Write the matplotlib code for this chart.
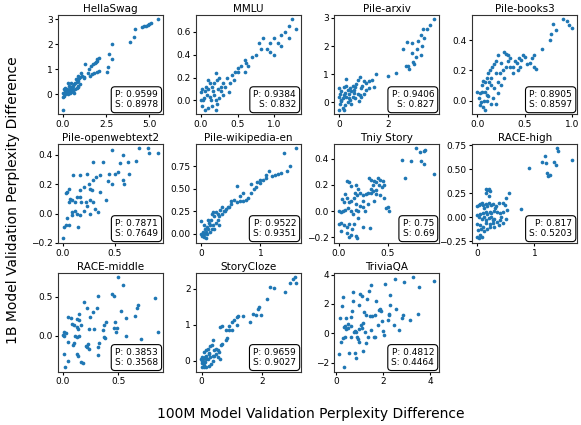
import numpy as np
import matplotlib
matplotlib.use("Agg")
import matplotlib.pyplot as plt

# ── Data ────────────────────────────────────────────────────────────────────
titles = ["HellaSwag", "MMLU", "Pile-arxiv", "Pile-books3",
          "Pile-openwebtext2", "Pile-wikipedia-en", "Tniy Story", "RACE-high",
          "RACE-middle", "StoryCloze", "TriviaQA"]
pearson = ["0.9599", "0.9384", "0.9406", "0.8905", "0.7871", "0.9522",
           "0.75", "0.817", "0.3853", "0.9659", "0.4812"]
spearman = ["0.8978", "0.832", "0.827", "0.8597", "0.7649", "0.9351",
            "0.69", "0.5203", "0.3568", "0.9027", "0.4464"]

x_ticks = [[0, 2.5, 5.0], [0, 0.5, 1.0], [0, 2], [0, 0.5, 1.0],
           [0, 0.5], [0, 1], [0, 0.5], [0, 1],
           [0, 0.5], [0, 2], [0, 2, 4]]
y_ticks = [[0, 1, 2, 3], [0, 0.2, 0.4, 0.6], [0, 1, 2, 3], [0, 0.2, 0.4],
           [-0.2, 0, 0.2, 0.4], [0, 0.25, 0.5, 0.75], [-0.2, 0, 0.2, 0.4],
           [-0.25, 0, 0.25, 0.5, 0.75],
           [0, 0.5], [0, 1, 2], [-2, 0, 2, 4]]

hellaswag = [(5.5, 3.0), (5.1, 2.85), (5.0, 2.82), (4.9, 2.78), (4.8, 2.75), (4.7, 2.72),
             (4.6, 2.68), (4.15, 2.6), (4.1, 2.3), (3.9, 2.1), (2.83, 2.03), (2.65, 1.6),
             (2.87, 1.4), (2.63, 1.08), (2.57, 0.9), (2.1, 1.45), (2.0, 1.4), (1.95, 1.35),
             (1.9, 1.3), (1.85, 1.25), (1.75, 1.2), (1.65, 1.15), (1.3, 1.2), (1.5, 1.0),
             (2.1, 0.95), (1.95, 0.9), (1.8, 0.85), (1.7, 0.8), (1.55, 0.75), (1.45, 0.85),
             (1.25, 0.7), (1.2, 0.65), (1.1, 0.75), (1.0, 0.7), (0.95, 0.65), (0.9, 0.6),
             (0.85, 0.55), (0.8, 0.5), (0.75, 0.6), (0.7, 0.45), (0.65, 0.4), (0.6, 0.35),
             (0.55, 0.3), (0.5, 0.45), (0.45, 0.25), (0.4, 0.2), (0.35, 0.15), (0.3, 0.1),
             (0.25, 0.2), (0.2, 0.05), (0.15, 0.1), (0.1, 0.0), (0.05, -0.05), (0.0, -0.1),
             (0.9, 0.3), (0.8, 0.25), (0.7, 0.2), (0.6, 0.15), (0.5, 0.1), (0.4, 0.05),
             (0.3, 0.0), (0.2, 0.15), (0.1, 0.1), (0.05, 0.2), (0.0, 0.05), (0.65, 0.05),
             (0.45, 0.3), (0.35, 0.35), (0.25, 0.1), (1.0, 0.4), (0.85, 0.35), (0.55, 0.2),
             (0.0, -0.61), (0.15, 0.25), (0.3, 0.45), (1.05, 0.85), (0.9, 0.75)]

mmlu = [(1.25, 0.71), (1.3, 0.63), (1.2, 0.65), (1.15, 0.6), (1.2, 0.55), (1.1, 0.57),
        (1.05, 0.5), (1.1, 0.48), (1.0, 0.55), (0.95, 0.5), (0.9, 0.45), (0.95, 0.42),
        (1.0, 0.4), (0.85, 0.55), (0.8, 0.5), (0.82, 0.45), (0.75, 0.4), (0.7, 0.38),
        (0.6, 0.35), (0.65, 0.3), (0.55, 0.3), (0.5, 0.28), (0.47, 0.25), (0.42, 0.22),
        (0.45, 0.18), (0.35, 0.2), (0.3, 0.15), (0.33, 0.12), (0.4, 0.15), (0.38, 0.07),
        (0.25, 0.2), (0.2, 0.24), (0.22, 0.18), (0.18, 0.15), (0.15, 0.12), (0.12, 0.15),
        (0.1, 0.1), (0.08, 0.05), (0.05, 0.08), (0.03, 0.0), (0.0, 0.07), (0.02, -0.05),
        (0.05, -0.08), (0.1, -0.07), (0.15, -0.05), (0.2, -0.08), (0.22, -0.03), (0.25, 0.02),
        (0.18, 0.05), (0.12, 0.03), (0.07, 0.12), (0.0, 0.0), (0.04, 0.02), (0.14, 0.0),
        (0.28, 0.08), (0.23, 0.1), (0.3, 0.05), (0.6, 0.25), (0.62, 0.33), (0.5, 0.25),
        (0.02, 0.1), (0.1, 0.18), (0.16, 0.08), (0.2, 0.0), (0.27, 0.12)]

pile_arxiv = [(3.85, 2.95), (3.7, 2.75), (3.55, 2.6), (3.4, 2.6), (3.3, 2.4), (3.45, 2.3),
              (3.2, 2.2), (3.35, 2.0), (3.15, 1.9), (2.95, 1.75), (3.1, 1.6), (3.3, 1.7),
              (3.0, 1.45), (2.85, 1.2), (3.05, 1.35), (2.75, 2.15), (2.95, 2.1), (2.6, 1.9),
              (2.7, 1.3), (2.8, 1.3), (2.3, 1.05), (2.0, 0.95), (1.5, 1.0), (1.35, 0.8),
              (1.2, 0.75), (1.1, 0.7), (1.0, 0.75), (0.95, 0.6), (0.9, 0.5), (0.85, 0.9),
              (0.75, 0.8), (0.7, 0.65), (0.65, 0.55), (0.6, 0.45), (0.55, 0.6), (0.5, 0.4),
              (0.45, 0.5), (0.4, 0.3), (0.35, 0.45), (0.3, 0.85), (0.3, 0.2), (0.25, 0.35),
              (0.2, 0.25), (0.15, 0.15), (0.1, 0.05), (0.05, 0.3), (0.05, -0.05), (0.0, 0.2),
              (0.0, 0.5), (0.1, 0.1), (0.15, -0.2), (0.2, -0.25), (0.0, -0.25), (0.25, -0.1),
              (0.35, 0.0), (0.45, 0.1), (0.55, 0.2), (0.65, 0.15), (0.75, 0.3), (0.85, 0.25),
              (1.0, 0.3), (1.2, 0.5), (1.4, 0.55), (0.8, 0.05), (0.5, -0.05), (0.3, 0.6),
              (0.2, 0.55), (0.6, 0.35), (0.4, 0.15), (0.1, 0.4), (1.1, 0.45), (0.9, 0.2)]

pile_books3 = [(0.8, 0.51), (0.83, 0.47), (0.9, 0.54), (0.95, 0.53), (0.97, 0.5), (1.0, 0.48),
               (0.78, 0.44), (0.77, 0.4), (0.68, 0.34), (0.6, 0.3), (0.58, 0.28), (0.56, 0.25),
               (0.62, 0.21), (0.5, 0.29), (0.48, 0.3), (0.46, 0.27), (0.44, 0.28), (0.42, 0.25),
               (0.4, 0.26), (0.38, 0.22), (0.35, 0.28), (0.33, 0.3), (0.3, 0.31), (0.28, 0.32),
               (0.25, 0.25), (0.27, 0.2), (0.3, 0.22), (0.22, 0.3), (0.2, 0.26), (0.18, 0.24),
               (0.16, 0.22), (0.14, 0.2), (0.12, 0.18), (0.1, 0.15), (0.08, 0.12), (0.06, 0.13),
               (0.2, 0.18), (0.22, 0.12), (0.18, 0.08), (0.15, 0.1), (0.13, 0.12), (0.1, 0.08),
               (0.08, 0.06), (0.05, 0.06), (0.03, 0.05), (0.0, 0.06), (0.02, 0.02), (0.04, -0.01),
               (0.06, -0.04), (0.08, -0.06), (0.1, 0.0), (0.12, 0.03), (0.15, -0.02), (0.2, -0.02),
               (0.22, 0.05), (0.25, 0.1), (0.17, 0.02), (0.1, 0.04), (0.07, 0.0), (0.03, -0.03),
               (0.35, 0.22), (0.32, 0.26), (0.45, 0.22), (0.38, 0.18), (0.28, 0.15), (0.24, 0.18),
               (0.52, 0.24), (0.6, 0.22), (0.43, 0.2), (0.15, 0.15), (0.05, 0.1)]

pile_owt2 = [(0.82, 0.445), (0.74, 0.445), (0.92, 0.41), (0.83, 0.41), (0.71, 0.355),
             (0.63, 0.35), (0.58, 0.4), (0.48, 0.435), (0.55, 0.345), (0.53, 0.28), (0.45, 0.27),
             (0.5, 0.27), (0.64, 0.27), (0.58, 0.23), (0.59, 0.2), (0.48, 0.2), (0.44, 0.22),
             (0.36, 0.15), (0.34, 0.01), (0.39, 0.35), (0.29, 0.35), (0.36, 0.26), (0.32, 0.25),
             (0.29, 0.23), (0.25, 0.2), (0.26, 0.17), (0.28, 0.16), (0.23, 0.27), (0.2, 0.18),
             (0.17, 0.16), (0.14, 0.11), (0.1, 0.26), (0.17, 0.26), (0.06, 0.17), (0.04, 0.15),
             (0.03, 0.14), (0.07, 0.1), (0.06, 0.08), (0.09, 0.09), (0.12, 0.08), (0.17, 0.11),
             (0.18, 0.08), (0.22, 0.08), (0.26, 0.09), (0.29, 0.08), (0.09, 0.01), (0.12, 0.02),
             (0.14, 0.0), (0.17, -0.01), (0.09, -0.01), (0.04, -0.03), (0.03, -0.08),
             (0.01, -0.09), (0.06, -0.08), (0.15, -0.09), (0.0, -0.165), (0.2, 0.02),
             (0.26, 0.0), (0.31, 0.03), (0.23, 0.05), (0.42, 0.09)]

pile_wiki = [(1.6, 0.95), (1.4, 0.9), (1.5, 0.75), (1.45, 0.7), (1.35, 0.68), (1.3, 0.66),
             (1.25, 0.65), (1.2, 0.64), (1.15, 0.7), (1.1, 0.62), (1.05, 0.6), (1.0, 0.6),
             (0.95, 0.58), (0.93, 0.52), (0.9, 0.5), (0.85, 0.45), (0.8, 0.4), (0.75, 0.38),
             (0.7, 0.37), (0.65, 0.37), (0.6, 0.35), (0.6, 0.53), (0.55, 0.38), (0.5, 0.33),
             (0.48, 0.3), (0.45, 0.3), (0.42, 0.28), (0.4, 0.25), (0.38, 0.25), (0.35, 0.3),
             (0.32, 0.27), (0.3, 0.2), (0.28, 0.22), (0.25, 0.24), (0.22, 0.2), (0.2, 0.24),
             (0.18, 0.22), (0.17, 0.15), (0.15, 0.1), (0.13, 0.12), (0.12, 0.05), (0.1, 0.08),
             (0.08, 0.02), (0.05, 0.0), (0.03, 0.02), (0.0, 0.0), (0.02, -0.02), (0.05, -0.03),
             (0.08, -0.05), (0.1, 0.0), (0.0, 0.14), (0.05, 0.1), (0.12, 0.15), (0.2, 0.1),
             (0.25, 0.12), (0.3, 0.1), (0.22, 0.05), (0.15, 0.02), (0.35, 0.22), (0.28, 0.15),
             (0.18, 0.05), (0.07, 0.05), (0.5, 0.36), (0.65, 0.42), (0.7, 0.45), (1.0, 0.57),
             (0.85, 0.55), (1.1, 0.65)]

tiny_story = [(0.79, 0.48), (0.88, 0.46), (0.89, 0.47), (0.83, 0.45), (0.65, 0.39),
              (0.74, 0.38), (0.84, 0.38), (0.88, 0.36), (0.98, 0.28), (0.68, 0.25),
              (0.31, 0.25), (0.33, 0.24), (0.36, 0.23), (0.38, 0.22), (0.4, 0.25), (0.42, 0.24),
              (0.45, 0.23), (0.46, 0.2), (0.44, 0.18), (0.41, 0.2), (0.35, 0.2), (0.33, 0.17),
              (0.38, 0.16), (0.42, 0.12), (0.46, 0.1), (0.38, 0.13), (0.35, 0.15), (0.33, 0.14),
              (0.5, 0.03), (0.52, 0.0), (0.48, 0.02), (0.3, 0.14), (0.28, 0.13), (0.25, 0.12),
              (0.22, 0.14), (0.2, 0.17), (0.18, 0.2), (0.19, 0.12), (0.16, 0.14), (0.12, 0.19),
              (0.1, 0.22), (0.08, 0.23), (0.15, 0.1), (0.12, 0.08), (0.1, 0.07), (0.08, 0.1),
              (0.05, 0.07), (0.03, 0.09), (0.06, 0.13), (0.0, 0.0), (0.02, -0.01), (0.04, 0.0),
              (0.06, 0.01), (0.09, 0.02), (0.12, 0.0), (0.14, -0.02), (0.17, 0.01), (0.2, 0.0),
              (0.22, 0.04), (0.25, 0.03), (0.27, 0.0), (0.0, -0.1), (0.02, -0.09), (0.05, -0.11),
              (0.08, -0.12), (0.1, -0.1), (0.13, -0.14), (0.15, -0.1), (0.08, -0.17),
              (0.1, -0.2), (0.18, -0.19), (0.19, -0.21), (0.12, -0.18), (0.25, -0.12),
              (0.32, -0.13), (0.02, -0.15), (0.2, -0.05), (0.18, 0.05), (0.25, 0.08),
              (0.3, 0.05), (0.36, 0.08)]

race_high = [(1.4, 0.72), (1.41, 0.69), (1.66, 0.6), (1.18, 0.64), (1.13, 0.58), (1.2, 0.57),
             (1.35, 0.58), (1.38, 0.55), (1.22, 0.46), (1.23, 0.43), (1.28, 0.44), (0.9, 0.51),
             (0.77, 0.09), (0.15, 0.3), (0.18, 0.28), (0.2, 0.3), (0.22, 0.27), (0.2, 0.22),
             (0.15, 0.25), (0.05, 0.14), (0.0, 0.12), (0.03, 0.13), (0.08, 0.15), (0.1, 0.13),
             (0.12, 0.1), (0.15, 0.14), (0.18, 0.12), (0.2, 0.15), (0.25, 0.13), (0.28, 0.14),
             (0.33, 0.12), (0.38, 0.15), (0.45, 0.15), (0.5, 0.2), (0.55, 0.25), (0.48, 0.13),
             (0.52, 0.08), (0.45, 0.06), (0.4, 0.05), (0.35, 0.06), (0.3, 0.07), (0.25, 0.05),
             (0.22, 0.06), (0.18, 0.04), (0.15, 0.06), (0.1, 0.05), (0.05, 0.04), (0.0, 0.02),
             (0.03, 0.0), (0.08, -0.02), (0.12, 0.0), (0.16, -0.03), (0.2, -0.01), (0.25, 0.0),
             (0.3, -0.02), (0.35, -0.05), (0.4, -0.03), (0.45, -0.06), (0.5, -0.02),
             (0.28, -0.06), (0.22, -0.07), (0.15, -0.06), (0.1, -0.1), (0.05, -0.08),
             (0.0, -0.07), (0.02, -0.13), (0.07, -0.12), (0.12, -0.14), (0.18, -0.12),
             (0.22, -0.1), (0.3, -0.1), (0.0, -0.2), (0.03, -0.22), (0.08, -0.21),
             (0.05, -0.18), (0.38, -0.08), (0.42, 0.0), (0.32, 0.1), (0.27, -0.03)]

race_middle = [(0.5, 0.75), (0.54, 0.65), (0.83, 0.48), (0.86, 0.05), (0.71, -0.04),
               (0.44, 0.53), (0.46, 0.51), (0.32, 0.51), (0.19, 0.43), (0.53, 0.31),
               (0.68, 0.39), (0.67, 0.36), (0.65, 0.25), (0.57, 0.23), (0.22, 0.35),
               (0.27, 0.3), (0.31, 0.35), (0.25, 0.24), (0.045, 0.24), (0.07, 0.23),
               (0.08, 0.15), (0.1, 0.14), (0.13, 0.21), (0.15, 0.2), (0.16, 0.13), (0.13, 0.11),
               (0.14, 0.08), (0.24, 0.09), (0.28, 0.09), (0.39, 0.17), (0.37, 0.13),
               (0.47, 0.18), (0.49, 0.1), (0.46, 0.1), (0.48, 0.04), (0.36, 0.07),
               (0.38, -0.03), (0.37, -0.02), (0.0, 0.01), (0.01, 0.0), (0.03, 0.03),
               (0.01, 0.04), (0.11, 0.0), (0.125, -0.02), (0.15, 0.0), (0.045, -0.08),
               (0.1, -0.1), (0.09, -0.12), (0.23, -0.11), (0.21, -0.13), (0.22, -0.15),
               (0.24, -0.17), (0.33, -0.1), (0.32, -0.15), (0.57, -0.01), (0.01, -0.24),
               (0.125, -0.24), (0.14, -0.26), (0.045, -0.33), (0.16, -0.34), (0.18, -0.36),
               (0.32, -0.25), (0.015, -0.41), (0.15, 0.28)]

story_cloze = [(3.05, 2.32), (3.0, 2.27), (2.9, 2.15), (3.1, 2.15), (2.74, 1.91), (2.37, 2.03),
               (2.26, 2.06), (2.14, 1.7), (1.9, 1.49), (1.84, 1.44), (1.68, 1.3), (1.79, 1.28),
               (1.95, 1.28), (1.6, 1.08), (1.37, 1.25), (1.21, 1.23), (1.16, 1.2), (1.05, 1.13),
               (1.0, 1.07), (1.16, 1.0), (0.9, 0.95), (1.0, 0.85), (0.9, 0.84), (0.79, 0.85),
               (0.66, 0.96), (0.6, 0.94), (0.84, 0.64), (0.79, 0.58), (0.68, 0.47), (0.63, 0.42),
               (0.37, 0.58), (0.28, 0.41), (0.34, 0.42), (0.42, 0.28), (0.47, 0.33), (0.53, 0.28),
               (0.58, 0.24), (0.42, 0.14), (0.53, 0.11), (0.61, 0.05), (0.07, 0.24), (0.16, 0.28),
               (0.21, 0.33), (0.26, 0.19), (0.16, 0.14), (0.1, 0.09), (0.05, 0.05), (0.0, 0.09),
               (0.03, 0.0), (0.1, -0.05), (0.07, -0.12), (0.16, -0.19), (0.24, -0.14),
               (0.32, -0.09), (0.37, 0.0), (0.21, 0.05), (0.28, 0.09), (0.13, 0.03),
               (0.05, -0.05), (-0.02, 0.05), (0.0, -0.08), (0.37, 0.14), (0.47, 0.19),
               (0.24, 0.22), (0.08, -0.19), (0.0, -0.17)]

trivia_qa = [(0.14, 1.03), (0.25, 1.83), (0.28, 2.45), (0.18, -0.62), (0.11, -1.42),
             (0.32, -2.33), (0.28, -0.3), (0.35, -0.23), (0.38, 0.46), (0.32, 0.39),
             (0.42, 1.03), (0.49, 0.64), (0.52, -1.33), (0.6, -0.23), (0.63, 0.46),
             (0.63, 1.08), (0.67, 1.53), (0.7, 2.81), (0.7, 2.17), (0.73, 0.11), (0.77, 0.16),
             (0.8, -1.33), (0.84, -1.72), (0.84, 0.11), (0.88, -0.23), (0.91, -0.39),
             (0.98, -0.57), (0.98, 1.9), (1.02, 2.68), (1.07, 2.52), (1.05, 0.53), (1.07, 0.34),
             (1.12, 0.73), (1.12, -1.21), (1.19, 1.44), (1.21, 0.07), (1.24, -0.69),
             (1.26, 1.26), (1.3, 2.33), (1.35, -0.23), (1.39, 2.86), (1.44, 1.19), (1.46, 3.27),
             (1.46, 0.23), (1.53, 1.19), (1.58, -0.23), (1.63, 1.26), (1.63, -0.23),
             (1.67, 2.22), (1.77, 0.53), (1.81, 1.6), (1.85, 1.65), (1.91, 1.49), (1.95, 0.85),
             (2.0, 0.16), (2.02, -0.11), (2.09, 3.36), (2.19, 0.91), (2.23, 1.3), (2.23, 1.21),
             (2.27, 1.9), (2.3, 2.59), (2.47, 0.53), (2.51, 3.73), (2.55, 1.67), (2.65, 0.23),
             (2.79, 1.03), (2.83, 1.21), (2.89, 3.48), (3.14, 0.87), (3.25, 3.82), (3.46, 1.33),
             (3.51, 3.16), (4.16, 3.55), (0.98, 0.3), (0.49, 0.34), (0.42, 0.3)]

panels = [hellaswag, mmlu, pile_arxiv, pile_books3, pile_owt2, pile_wiki,
          tiny_story, race_high, race_middle, story_cloze, trivia_qa]

# ── Plot ────────────────────────────────────────────────────────────────────
fig, axes = plt.subplots(3, 4, figsize=(5.81, 4.25), dpi=100)
fig.subplots_adjust(left=0.1, right=0.993, top=0.965, bottom=0.125,
                    wspace=0.32, hspace=0.3)

for i, (ax, title, pts) in enumerate(zip(axes.flat, titles, panels)):
    x, y = np.array(pts).T
    ax.scatter(x, y, s=7, color="tab:blue", linewidths=0)
    ax.set_title(title, fontsize=7.5, pad=2)
    ax.set_xticks(x_ticks[i])
    ax.set_yticks(y_ticks[i])
    ax.tick_params(labelsize=6.5, length=2.5, width=0.8, pad=1.5)
    ax.text(0.955, 0.05, f"P: {pearson[i]}\nS: {spearman[i]}", transform=ax.transAxes,
            ha="right", va="bottom", fontsize=6.5, linespacing=1.1,
            bbox=dict(boxstyle="round,pad=0.4", fc="white", ec="black", lw=0.8))
    for sp in ax.spines.values():
        sp.set_color("#333333")

axes.flat[-1].axis("off")

fig.supxlabel("100M Model Validation Perplexity Difference", fontsize=10,
              x=0.535, y=0.01)
fig.supylabel("1B Model Validation Perplexity Difference", fontsize=10,
              x=0.01, y=0.53)

fig.savefig("out.png", dpi=100)
